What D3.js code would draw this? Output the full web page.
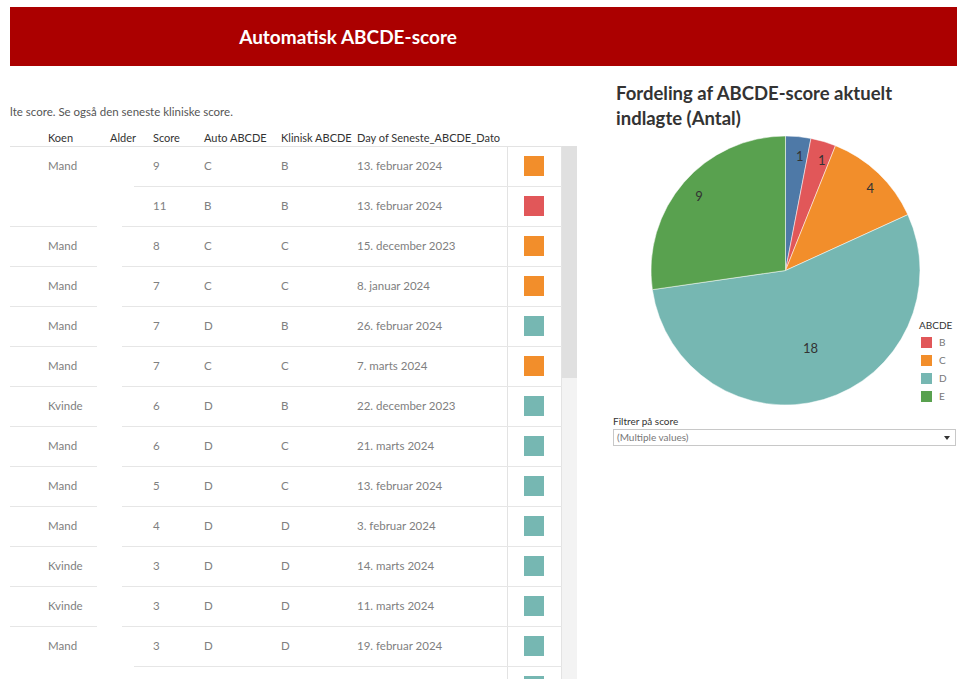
<!DOCTYPE html>
<html>
<head>
<meta charset="utf-8">
<script src="https://cdn.jsdelivr.net/npm/d3@7"></script>
<style>
  body { margin: 0; background: #fff; }
  svg { display: block; font-family: "Lato", "Noto Sans", sans-serif; }
</style>
</head>
<body>
<div id="graph"></div>
<script>
// ---- data ----
const koen = ["Mand", "", "Mand", "Mand", "Mand", "Mand", "Kvinde", "Mand", "Mand", "Mand", "Kvinde", "Kvinde", "Mand", ""];
const score = ["9", "11", "8", "7", "7", "7", "6", "6", "5", "4", "3", "3", "3", ""];
const autoAbcde = ["C", "B", "C", "C", "D", "C", "D", "D", "D", "D", "D", "D", "D", "D"];
const kliniskAbcde = ["B", "B", "C", "C", "B", "C", "B", "C", "C", "D", "D", "D", "D", ""];
const datoer = ["13. februar 2024", "13. februar 2024", "15. december 2023", "8. januar 2024", "26. februar 2024",
  "7. marts 2024", "22. december 2023", "21. marts 2024", "13. februar 2024", "3. februar 2024",
  "14. marts 2024", "11. marts 2024", "19. februar 2024", ""];
const headers = ["Koen", "Alder", "Score", "Auto ABCDE", "Klinisk ABCDE", "Day of Seneste_ABCDE_Dato"];

const pieCats = ["A", "B", "C", "D", "E"];
const pieValues = [1, 1, 4, 18, 9];
const legendCats = ["B", "C", "D", "E"];

// ---- layout ----
const W = 957, H = 679;
const colX = [48, 110, 153, 204, 281, 357];
const rowTop = 146, rowH = 40;

const color = d3.scaleOrdinal()
  .domain(pieCats)
  .range(["#4e79a7", "#e15759", "#f28e2b", "#76b7b2", "#59a14f"]);

const svg = d3.select("#graph").append("svg")
  .attr("width", W)
  .attr("height", H);

// header band
svg.append("rect")
  .attr("x", 10).attr("y", 7)
  .attr("width", W - 10).attr("height", 59)
  .attr("fill", "#ab0000");
svg.append("text")
  .attr("x", 348).attr("y", 44)
  .attr("text-anchor", "middle")
  .attr("fill", "#fff")
  .style("font-size", "19px")
  .style("font-weight", "bold")
  .text("Automatisk ABCDE-score");

// subtitle
svg.append("text")
  .attr("x", 10).attr("y", 116)
  .attr("fill", "#555")
  .style("font-size", "11.5px")
  .text("lte score. Se også den seneste kliniske score.");

// ---- table ----
const rows = d3.range(koen.length);
const y = d3.scaleBand()
  .domain(rows)
  .range([rowTop, rowTop + rowH * rows.length]);

const table = svg.append("g");

// scrollbar
table.append("rect").attr("x", 562).attr("y", rowTop).attr("width", 15).attr("height", H - rowTop).attr("fill", "#f3f3f3");
table.append("rect").attr("x", 562).attr("y", rowTop).attr("width", 15).attr("height", 232).attr("fill", "#e0e0e0");

// borders
table.append("line").attr("x1", 10).attr("x2", 562).attr("y1", rowTop + 0.5).attr("y2", rowTop + 0.5).attr("stroke", "#e3e3e3");
table.append("line").attr("x1", 507.5).attr("x2", 507.5).attr("y1", rowTop).attr("y2", H).attr("stroke", "#e3e3e3");
table.append("line").attr("x1", 561.5).attr("x2", 561.5).attr("y1", rowTop).attr("y2", H).attr("stroke", "#e3e3e3");

// row separators
rows.slice(0, -1).forEach(i => {
  const ly = y(i) + rowH + 0.5;
  if (koen[i + 1] !== "") {
    table.append("line").attr("x1", 10).attr("x2", 97).attr("y1", ly).attr("y2", ly).attr("stroke", "#e6e6e6");
    table.append("line").attr("x1", 122).attr("x2", 507).attr("y1", ly).attr("y2", ly).attr("stroke", "#e6e6e6");
  } else {
    table.append("line").attr("x1", 134).attr("x2", 507).attr("y1", ly).attr("y2", ly).attr("stroke", "#e6e6e6");
  }
  table.append("line").attr("x1", 507).attr("x2", 562).attr("y1", ly).attr("y2", ly).attr("stroke", "#e6e6e6");
});

// headers
table.selectAll(".hdr")
  .data(headers)
  .enter().append("text")
  .attr("class", "hdr")
  .attr("x", (d, i) => colX[i])
  .attr("y", 142)
  .attr("fill", "#333")
  .style("font-size", "11px")
  .text(d => d);

// cells (only rows whose text fits in the window)
const visible = rows.filter(i => y(i) + rowH / 2 + 8 < H);
const cols = [koen, null, score, autoAbcde, kliniskAbcde, datoer];
cols.forEach((col, c) => {
  if (!col) return;
  table.selectAll(".c" + c)
    .data(visible)
    .enter().append("text")
    .attr("class", "c" + c)
    .attr("x", colX[c])
    .attr("y", i => y(i) + rowH / 2 + 4)
    .attr("fill", "#808080")
    .style("font-size", "11.5px")
    .text(i => col[i]);
});

// colour squares
table.selectAll(".sq")
  .data(autoAbcde)
  .enter().append("rect")
  .attr("class", "sq")
  .attr("x", 524)
  .attr("y", (d, i) => y(i) + rowH / 2 - 10)
  .attr("width", 20).attr("height", 20)
  .attr("fill", d => color(d));

// ---- pie ----
svg.append("text")
  .attr("x", 616).attr("y", 100)
  .attr("fill", "#333")
  .style("font-size", "18.5px").style("font-weight", "bold")
  .text("Fordeling af ABCDE-score aktuelt");
svg.append("text")
  .attr("x", 616).attr("y", 125)
  .attr("fill", "#333")
  .style("font-size", "18.5px").style("font-weight", "bold")
  .text("indlagte (Antal)");

const r = 134.5;
const pieG = svg.append("g").attr("transform", "translate(785.5,270.5)");
const pie = d3.pie().sort(null).value(d => d.v);
const arcs = pie(pieCats.map((c, i) => ({ c: c, v: pieValues[i] })));
const arc = d3.arc().innerRadius(0).outerRadius(r);
const maxV = d3.max(pieValues);

pieG.selectAll("path")
  .data(arcs)
  .enter().append("path")
  .attr("d", arc)
  .attr("fill", d => color(d.data.c))
  .attr("stroke", "#fff")
  .attr("stroke-width", 0.5);

pieG.selectAll(".lbl")
  .data(arcs)
  .enter().append("text")
  .attr("class", "lbl")
  .attr("transform", d => {
    const lr = d.data.v === maxV ? r * 0.58 : r * 0.88;
    const a = (d.startAngle + d.endAngle) / 2;
    return "translate(" + (Math.sin(a) * lr + 3) + "," + (-Math.cos(a) * lr + 8) + ")";
  })
  .attr("text-anchor", "middle")
  .attr("fill", "#333")
  .style("font-size", "13px")
  .text(d => d.data.v);

// legend
const legend = svg.append("g").attr("transform", "translate(919,0)");
legend.append("text").attr("x", 0).attr("y", 329).attr("fill", "#333").style("font-size", "10px").text("ABCDE");
legend.selectAll(".lg")
  .data(legendCats)
  .enter().append("rect")
  .attr("class", "lg")
  .attr("x", 2).attr("y", (d, i) => 337 + i * 18)
  .attr("width", 11).attr("height", 11)
  .attr("fill", d => color(d));
legend.selectAll(".lt")
  .data(legendCats)
  .enter().append("text")
  .attr("class", "lt")
  .attr("x", 20).attr("y", (d, i) => 346 + i * 18)
  .attr("fill", "#777")
  .style("font-size", "10px")
  .text(d => d);

// filter
svg.append("text").attr("x", 613).attr("y", 425).attr("fill", "#333").style("font-size", "10px").text("Filtrer på score");
svg.append("rect").attr("x", 613.5).attr("y", 429.5).attr("width", 342).attr("height", 16)
  .attr("fill", "#fff").attr("stroke", "#c8c8c8");
svg.append("text").attr("x", 617).attr("y", 441).attr("fill", "#777").style("font-size", "10px").text("(Multiple values)");
svg.append("path").attr("d", "M944,436 L950,436 L947,440 Z").attr("fill", "#333");
</script>
</body>
</html>
